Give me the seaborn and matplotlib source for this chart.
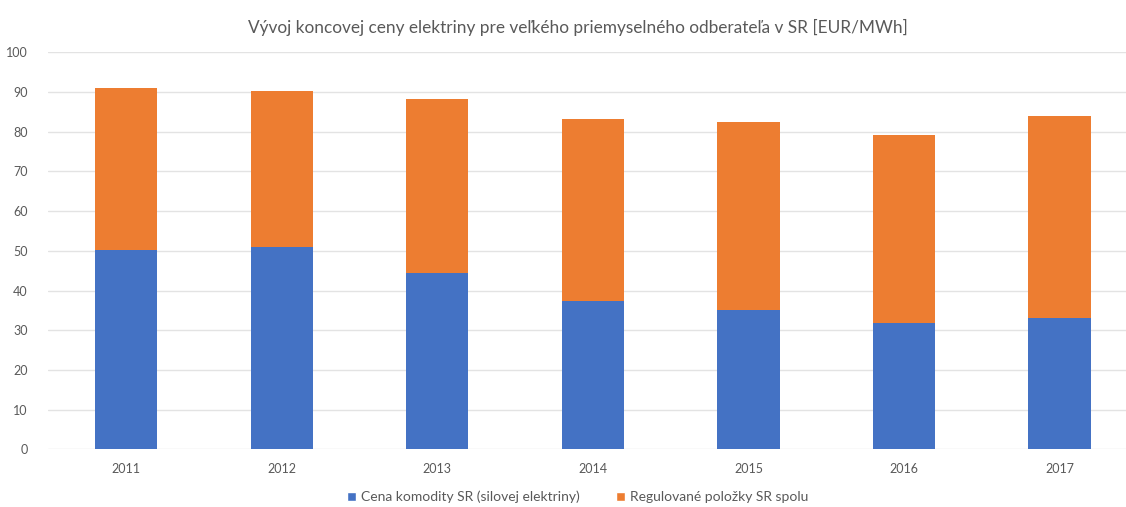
import matplotlib
matplotlib.use("Agg")
import matplotlib.pyplot as plt
import seaborn as sns
import pandas as pd
from matplotlib.patches import Patch

years = ["2011", "2012", "2013", "2014", "2015", "2016", "2017"]
commodity = [50.3, 51.0, 44.4, 37.3, 35.2, 31.7, 33.1]
regulated = [40.6, 39.3, 43.8, 45.8, 47.2, 47.4, 50.8]
series_names = ["Cena komodity SR (silovej elektriny)", "Regulované položky SR spolu"]
title = "Vývoj koncovej ceny elektriny pre veľkého priemyselného odberateľa v SR [EUR/MWh]"
yticks = [0, 10, 20, 30, 40, 50, 60, 70, 80, 90, 100]

BLUE = "#4472C4"
ORANGE = "#ED7D31"
TXT = "#595959"

sns.set_theme(style="white")
plt.rcParams["font.family"] = ["Lato", "DejaVu Sans"]

df = pd.DataFrame({"year": years, "commodity": commodity, "regulated": regulated})
df["total"] = df["commodity"] + df["regulated"]

fig = plt.figure(figsize=(11.26, 5.07), dpi=100)
ax = fig.add_axes([48.4 / 1126, (507 - 449.3) / 507, 1089 / 1126, (449.3 - 52.3) / 507])

sns.barplot(data=df, x="year", y="total", color=ORANGE, width=0.4, saturation=1,
            ax=ax, zorder=3, linewidth=0)
sns.barplot(data=df, x="year", y="commodity", color=BLUE, width=0.4, saturation=1,
            ax=ax, zorder=4, linewidth=0)

ax.set_ylim(0, 100)
ax.set_xlim(-0.5, 6.5)
ax.set_yticks(yticks)
ax.yaxis.grid(True, color="#E3E3E3", linewidth=1, zorder=0)
ax.set_axisbelow(True)
for s in ax.spines.values():
    s.set_visible(False)
ax.set_xlabel("")
ax.set_ylabel("")
ax.tick_params(axis="both", length=0, labelsize=9, colors=TXT)
ax.tick_params(axis="y", pad=15)
ax.tick_params(axis="x", pad=10)

fig.text(578 / 1126, 1 - 27 / 507, title, ha="center", va="center", fontsize=12.4, color=TXT)

handles = [Patch(facecolor=BLUE, label=series_names[0]),
           Patch(facecolor=ORANGE, label=series_names[1])]
fig.legend(handles=handles, loc="center", bbox_to_anchor=(578 / 1126, 1 - 497 / 507),
           ncol=2, frameon=False, fontsize=10, handlelength=0.6, handleheight=0.6,
           handletextpad=0.4, columnspacing=2.6, labelcolor=TXT)

fig.savefig("out.png", dpi=100)
